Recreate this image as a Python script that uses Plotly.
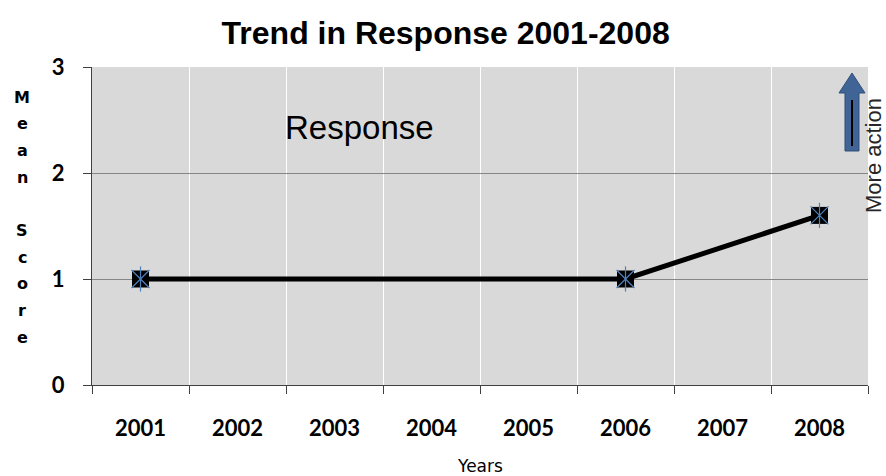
import plotly.graph_objects as go

# Survey data
years = ["2001", "2002", "2003", "2004", "2005", "2006", "2007", "2008"]
mean_score = [1.0, None, None, None, None, 1.0, None, 1.6]
y_ticks = [0, 1, 2, 3]

W, H = 886, 476
L, R, T, B = 92, 18, 67, 91
PW, PH = W - L - R, H - T - B


def px_x(px):
    return (px - L) / PW


def px_y(py):
    return (H - B - py) / PH


fig = go.Figure()

# main line with square markers
fig.add_trace(go.Scatter(
    x=years, y=mean_score, mode="lines+markers", connectgaps=True,
    line=dict(color="black", width=5),
    marker=dict(symbol="square", size=17, color="black"),
    hoverinfo="x+y", showlegend=False,
))
# blue star overlay on the markers
for sym in ["x-thin-open", "line-ns-open"]:
    fig.add_trace(go.Scatter(
        x=years, y=mean_score, mode="markers",
        marker=dict(symbol=sym, size=18, color="#4f81bd",
                    line=dict(color="#4f81bd", width=1.2)),
        hoverinfo="skip", showlegend=False,
    ))

tick_font = dict(family="Lato", size=22, color="black", weight="bold")

fig.update_layout(
    width=W, height=H,
    margin=dict(l=L, r=R, t=T, b=B),
    paper_bgcolor="white",
    plot_bgcolor="#d9d9d9",
    title=dict(text="<b>Trend in Response 2001-2008</b>", x=0.503, xanchor="center",
               y=1 - 33 / H, yanchor="middle",
               font=dict(family="Liberation Sans", size=32, color="black")),
    xaxis=dict(
        type="category", categoryorder="array", categoryarray=years,
        tickson="boundaries", ticks="outside", ticklen=8, tickcolor="#404040",
        showgrid=True, gridcolor="white", gridwidth=1,
        showline=True, linecolor="#404040", linewidth=1,
        tickfont=tick_font, ticklabelstandoff=24,
        range=[-0.5, 7.5], zeroline=False,
    ),
    yaxis=dict(
        range=[0, 3], tickvals=y_ticks, ticktext=[str(v) for v in y_ticks],
        ticks="outside", ticklen=8, tickcolor="#404040",
        showgrid=True, gridcolor="#868686", gridwidth=1,
        showline=True, linecolor="#404040", linewidth=1,
        tickfont=tick_font, ticklabelstandoff=14,
        zeroline=False,
    ),
)

ann = []
# y axis title, one letter per row
letters = ["M", "e", "a", "n", "", "S", "c", "o", "r", "e"]
row_step = 26.7
first_row = 97
for i, ch in enumerate(letters):
    if not ch:
        continue
    ann.append(dict(
        text=ch, xref="paper", yref="paper", x=px_x(22), y=px_y(first_row + i * row_step),
        xanchor="center", yanchor="middle", showarrow=False,
        font=dict(family="DejaVu Sans", size=16, color="black", weight="bold"),
    ))
# x axis title
ann.append(dict(
    text="Years", xref="paper", yref="paper", x=px_x(480), y=px_y(466),
    xanchor="center", yanchor="middle", showarrow=False,
    font=dict(family="DejaVu Sans", size=17, color="black"),
))
# series label inside the plot
ann.append(dict(
    text="Response", xref="paper", yref="paper", x=px_x(359), y=px_y(128),
    xanchor="center", yanchor="middle", showarrow=False,
    font=dict(family="Liberation Sans", size=33, color="black"),
))
# direction note
ann.append(dict(
    text="More action", xref="paper", yref="paper", x=px_x(873), y=px_y(156),
    xanchor="center", yanchor="middle", showarrow=False, textangle=-90,
    font=dict(family="Liberation Sans", size=22, color="#262626"),
))
fig.update_layout(annotations=ann)

# block arrow pointing up
arrow = [(852, 73), (865, 93), (859, 93), (859, 151), (845, 151), (845, 93), (839, 93)]
path = "M " + " L ".join(f"{px_x(a):.5f},{px_y(b):.5f}" for a, b in arrow) + " Z"
fig.add_shape(type="path", xref="paper", yref="paper", path=path,
              fillcolor="#3f6495", line=dict(color="#2f4f7a", width=1))
fig.add_shape(type="line", xref="paper", yref="paper",
              x0=px_x(852), y0=px_y(100), x1=px_x(852), y1=px_y(146),
              line=dict(color="black", width=2))

fig.write_html("out.html")
